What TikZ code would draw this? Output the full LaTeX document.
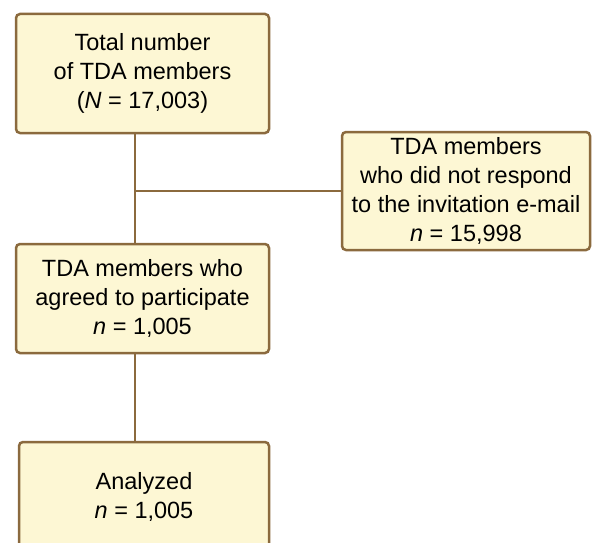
\documentclass[tikz,border=0pt]{standalone}
\usepackage{fontspec}
\setmainfont{Liberation Sans}
\usepackage{tikz}
\usetikzlibrary{positioning}

\definecolor{boxline}{HTML}{8B6A3E}
\definecolor{boxfill}{HTML}{FDF7D4}

\begin{document}
\begin{tikzpicture}[x=1pt,y=1pt,line width=2.5pt,
    flowbox/.style={draw=boxline,fill=boxfill,rounded corners=4pt,inner sep=0pt,
        align=center,font=\fontsize{23.5}{29}\selectfont},
    link/.style={draw=boxline,line width=2.5pt}]
    \useasboundingbox (0,0) rectangle (592,-543);

    \node[flowbox,minimum width=253,minimum height=119] (total) at (142.5,-73.5)
        {Total number\\of TDA members\\(\textit{N} = 17,003)};
    \node[flowbox,minimum width=248,minimum height=118] (noresp) at (466,-191)
        {TDA members\\who did not respond\\to the invitation e-mail\\\textit{n} = 15,998};
    \node[flowbox,minimum width=253,minimum height=109] (agreed) at (142.5,-298.5)
        {TDA members who\\agreed to participate\\\textit{n} = 1,005};
    \node[flowbox,minimum width=250,minimum height=110] (analyzed) at (144,-497)
        {Analyzed\\\textit{n} = 1,005};

    % trunk of the chart
    \coordinate (trunk) at (135,0);
    \draw[link] (total.south -| trunk) -- (agreed.north -| trunk);
    \draw[link] (trunk |- noresp.west) -- (noresp.west);
    \draw[link] (agreed.south -| trunk) -- (analyzed.north -| trunk);
\end{tikzpicture}
\end{document}
